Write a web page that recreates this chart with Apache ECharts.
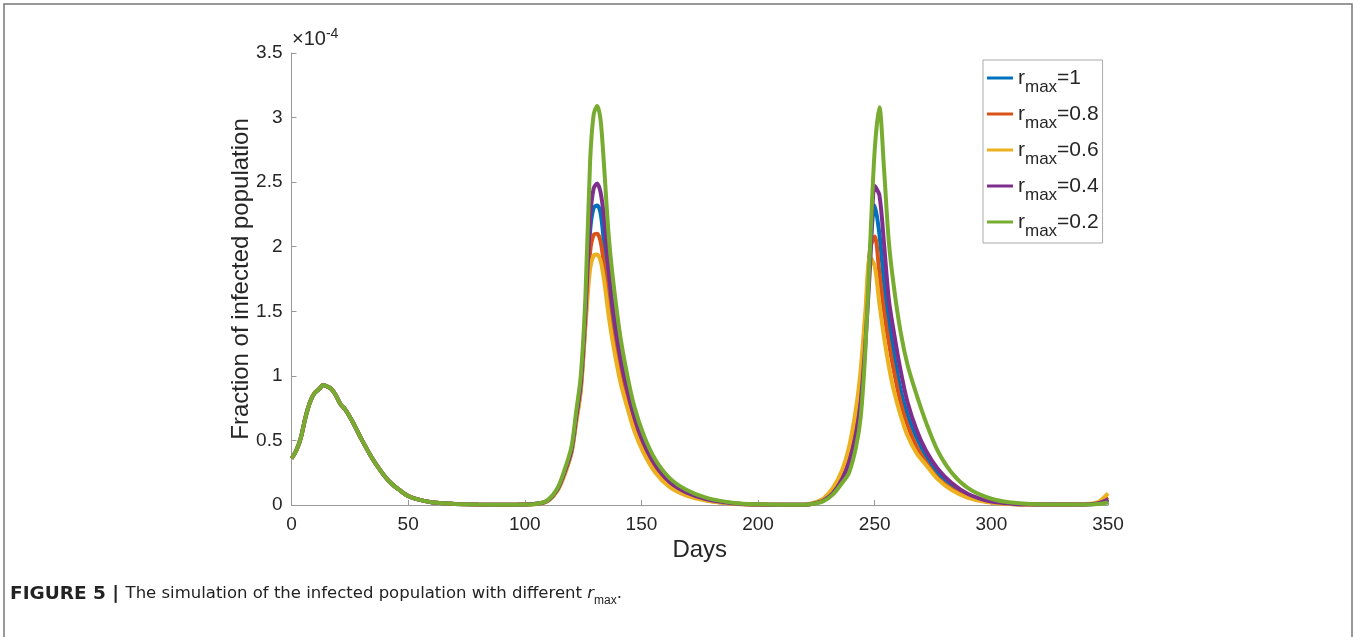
<!DOCTYPE html>
<html>
<head>
<meta charset="utf-8" />
<title>Infected population</title>
<script src="https://cdn.jsdelivr.net/npm/echarts@6/dist/echarts.min.js"></script>
<style>
  html, body { margin: 0; padding: 0; background: #fff; }
  #chart { width: 1359px; height: 637px; }
</style>
</head>
<body>
<div id="chart"></div>
<script>
// values are in units of 1e-4
const rLabels = ['1', '0.8', '0.6', '0.4', '0.2']
const colors = ['#0072BD', '#D95319', '#EDB120', '#7E2F8E', '#77AC30']

// first wave is the same for every r_max
const earlyDays = [0, 2, 4, 6, 8, 10, 12, 13.5, 15, 17, 19, 21, 23, 26, 30, 34, 38, 42, 46, 50, 55, 60, 65, 70, 80, 90, 100]
const earlyValues = [0.36, 0.42, 0.52, 0.68, 0.80, 0.87, 0.90, 0.93, 0.92, 0.90, 0.85, 0.78, 0.74, 0.65, 0.51, 0.38, 0.27, 0.18, 0.12, 0.07, 0.04, 0.022, 0.013, 0.008, 0.003, 0.001, 0.003]

// second wave
const wave2Days = [106, 110, 114, 117, 120, 122, 124, 126, 128, 129.5, 131, 132.5, 134, 136, 138, 141, 144, 147, 151, 156, 162, 169, 178, 190, 200, 210, 220]
const wave2R1 = [0.011, 0.035, 0.12, 0.25, 0.42, 0.66, 0.92, 1.46, 2.12, 2.30, 2.32, 2.26, 2.02, 1.64, 1.38, 1.06, 0.85, 0.65, 0.46, 0.29, 0.17, 0.095, 0.042, 0.011, 0.004, 0.002, 0.002]
const wave2R08 = [0.011, 0.034, 0.115, 0.24, 0.41, 0.65, 0.90, 1.42, 1.96, 2.09, 2.10, 2.04, 1.85, 1.52, 1.28, 1.00, 0.80, 0.61, 0.43, 0.27, 0.155, 0.085, 0.037, 0.010, 0.004, 0.002, 0.002]
const wave2R06 = [0.010, 0.033, 0.11, 0.23, 0.40, 0.63, 0.88, 1.38, 1.83, 1.93, 1.94, 1.89, 1.74, 1.46, 1.23, 0.95, 0.75, 0.57, 0.40, 0.25, 0.14, 0.075, 0.032, 0.009, 0.003, 0.002, 0.002]
const wave2R04 = [0.011, 0.036, 0.12, 0.25, 0.42, 0.67, 0.93, 1.48, 2.22, 2.45, 2.49, 2.42, 2.22, 1.82, 1.50, 1.14, 0.89, 0.68, 0.48, 0.31, 0.18, 0.10, 0.045, 0.012, 0.004, 0.002, 0.002]
const wave2R02 = [0.012, 0.04, 0.13, 0.27, 0.45, 0.72, 1.00, 1.62, 2.66, 3.02, 3.09, 2.98, 2.62, 2.08, 1.72, 1.30, 1.00, 0.76, 0.54, 0.35, 0.21, 0.12, 0.055, 0.015, 0.005, 0.002, 0.002]

// third wave and the tail
const wave3Days = [224, 228, 232, 236, 239, 242, 244, 246, 248, 250, 252, 254, 256, 258, 261, 264, 268, 272, 277, 283, 290, 298, 306, 315, 325, 335, 342, 346, 350]
const wave3R1 = [0.013, 0.04, 0.10, 0.22, 0.36, 0.60, 0.88, 1.35, 1.95, 2.32, 2.10, 1.72, 1.42, 1.20, 0.90, 0.70, 0.52, 0.38, 0.25, 0.15, 0.075, 0.03, 0.012, 0.005, 0.003, 0.003, 0.006, 0.014, 0.04]
const wave3R08 = [0.015, 0.045, 0.11, 0.24, 0.40, 0.66, 0.95, 1.42, 1.98, 2.08, 1.80, 1.50, 1.26, 1.06, 0.80, 0.62, 0.45, 0.33, 0.21, 0.125, 0.062, 0.026, 0.01, 0.004, 0.003, 0.003, 0.007, 0.017, 0.06]
const wave3R06 = [0.018, 0.05, 0.13, 0.27, 0.45, 0.75, 1.05, 1.50, 1.92, 1.85, 1.56, 1.30, 1.08, 0.90, 0.70, 0.54, 0.40, 0.31, 0.20, 0.115, 0.055, 0.023, 0.009, 0.004, 0.003, 0.003, 0.009, 0.025, 0.09]
const wave3R04 = [0.012, 0.035, 0.09, 0.20, 0.33, 0.55, 0.80, 1.25, 1.85, 2.47, 2.40, 2.02, 1.60, 1.36, 1.05, 0.80, 0.58, 0.42, 0.28, 0.17, 0.085, 0.035, 0.014, 0.005, 0.003, 0.003, 0.006, 0.014, 0.045]
const wave3R02 = [0.01, 0.03, 0.08, 0.17, 0.25, 0.45, 0.68, 1.20, 2.00, 2.75, 3.08, 2.60, 2.05, 1.72, 1.35, 1.09, 0.85, 0.64, 0.42, 0.25, 0.13, 0.06, 0.025, 0.01, 0.004, 0.003, 0.004, 0.008, 0.02]

const wave2 = [wave2R1, wave2R08, wave2R06, wave2R04, wave2R02]
const wave3 = [wave3R1, wave3R08, wave3R06, wave3R04, wave3R02]

const font = '"Liberation Sans", Arial, sans-serif'
const captionFont = '"DejaVu Sans", sans-serif'

// join the three parts into [day, value] pairs
function buildSeries(i) {
  let pts = []
  earlyDays.forEach((d, k) => pts.push([d, earlyValues[k]]))
  wave2Days.forEach((d, k) => pts.push([d, wave2[i][k]]))
  wave3Days.forEach((d, k) => pts.push([d, wave3[i][k]]))
  return pts
}

let mychart = echarts.init(document.getElementById('chart'))
mychart.setOption({
  animation: false,
  backgroundColor: '#fff',
  grid: { left: 291.5, right: 251, top: 53, bottom: 132 },
  xAxis: {
    type: 'value',
    min: 0,
    max: 350,
    interval: 50,
    name: 'Days',
    nameLocation: 'middle',
    nameGap: 33,
    nameMoveOverlap: false,
    nameTextStyle: { fontFamily: font, fontSize: 24, color: '#262626' },
    axisLine: { lineStyle: { color: '#999', width: 1 } },
    axisTick: { inside: true, length: 5, lineStyle: { color: '#999' } },
    axisLabel: { fontFamily: font, fontSize: 19, color: '#262626', margin: 10 },
    splitLine: { show: false }
  },
  yAxis: {
    type: 'value',
    min: 0,
    max: 3.5,
    interval: 0.5,
    name: 'Fraction of infected population',
    nameLocation: 'middle',
    nameGap: 38,
    nameMoveOverlap: false,
    nameTextStyle: { fontFamily: font, fontSize: 24, color: '#262626' },
    axisLine: { show: true, lineStyle: { color: '#999', width: 1 } },
    axisTick: { show: true, inside: true, length: 5, lineStyle: { color: '#999' } },
    axisLabel: { fontFamily: font, fontSize: 19, color: '#262626', margin: 9 },
    splitLine: { show: false }
  },
  legend: {
    orient: 'vertical',
    left: 983,
    top: 60,
    padding: [0, 4, 3, 4],
    itemGap: 0,
    itemWidth: 26,
    itemHeight: 3,
    icon: 'rect',
    borderColor: '#aaa',
    borderWidth: 1,
    backgroundColor: '#fff',
    formatter: (name) => '{r|r}{s|max}{r|=' + name.split('=')[1] + '}',
    textStyle: {
      fontFamily: font,
      color: '#262626',
      rich: {
        r: { fontFamily: font, fontSize: 21, color: '#262626', verticalAlign: 'middle', lineHeight: 22 },
        s: { fontFamily: font, fontSize: 17, color: '#262626', verticalAlign: 'middle', lineHeight: 16, padding: [19, 0, 0, 0] }
      }
    }
  },
  series: rLabels.map((r, i) => ({
    name: 'r_max=' + r,
    type: 'line',
    data: buildSeries(i),
    smooth: 0.3,
    symbol: 'none',
    color: colors[i],
    lineStyle: { width: 4, color: colors[i] }
  })),
  graphic: [
    // outer frame of the figure
    {
      type: 'rect',
      shape: { x: 4, y: 4, width: 1348, height: 700 },
      style: { fill: 'none', stroke: '#777', lineWidth: 1.5 },
      silent: true
    },
    // exponent of the y axis
    {
      type: 'text',
      left: 292,
      top: 27,
      style: {
        text: '{a|\u00d710}{b|-4}',
        rich: {
          a: { fontFamily: font, fontSize: 20, fill: '#262626', verticalAlign: 'bottom', lineHeight: 22 },
          b: { fontFamily: font, fontSize: 14, fill: '#262626', verticalAlign: 'top', lineHeight: 22 }
        }
      }
    },
    // caption
    {
      type: 'text',
      left: 10,
      top: 585,
      style: {
        text: '{b|FIGURE 5 | }{n|The simulation of the infected population with different }{i|r}{s|max}{n|.}',
        rich: {
          b: { fontFamily: captionFont, fontSize: 18.5, fontWeight: 'bold', fill: '#222', verticalAlign: 'top', lineHeight: 20 },
          n: { fontFamily: captionFont, fontSize: 16.5, fill: '#222', verticalAlign: 'top', lineHeight: 20 },
          i: { fontFamily: captionFont, fontSize: 16.5, fontStyle: 'italic', fill: '#222', verticalAlign: 'top', lineHeight: 20 },
          s: { fontFamily: font, fontSize: 12, fill: '#222', verticalAlign: 'top', lineHeight: 14, padding: [10, 0, 0, 0] }
        }
      }
    }
  ]
})
</script>
</body>
</html>
